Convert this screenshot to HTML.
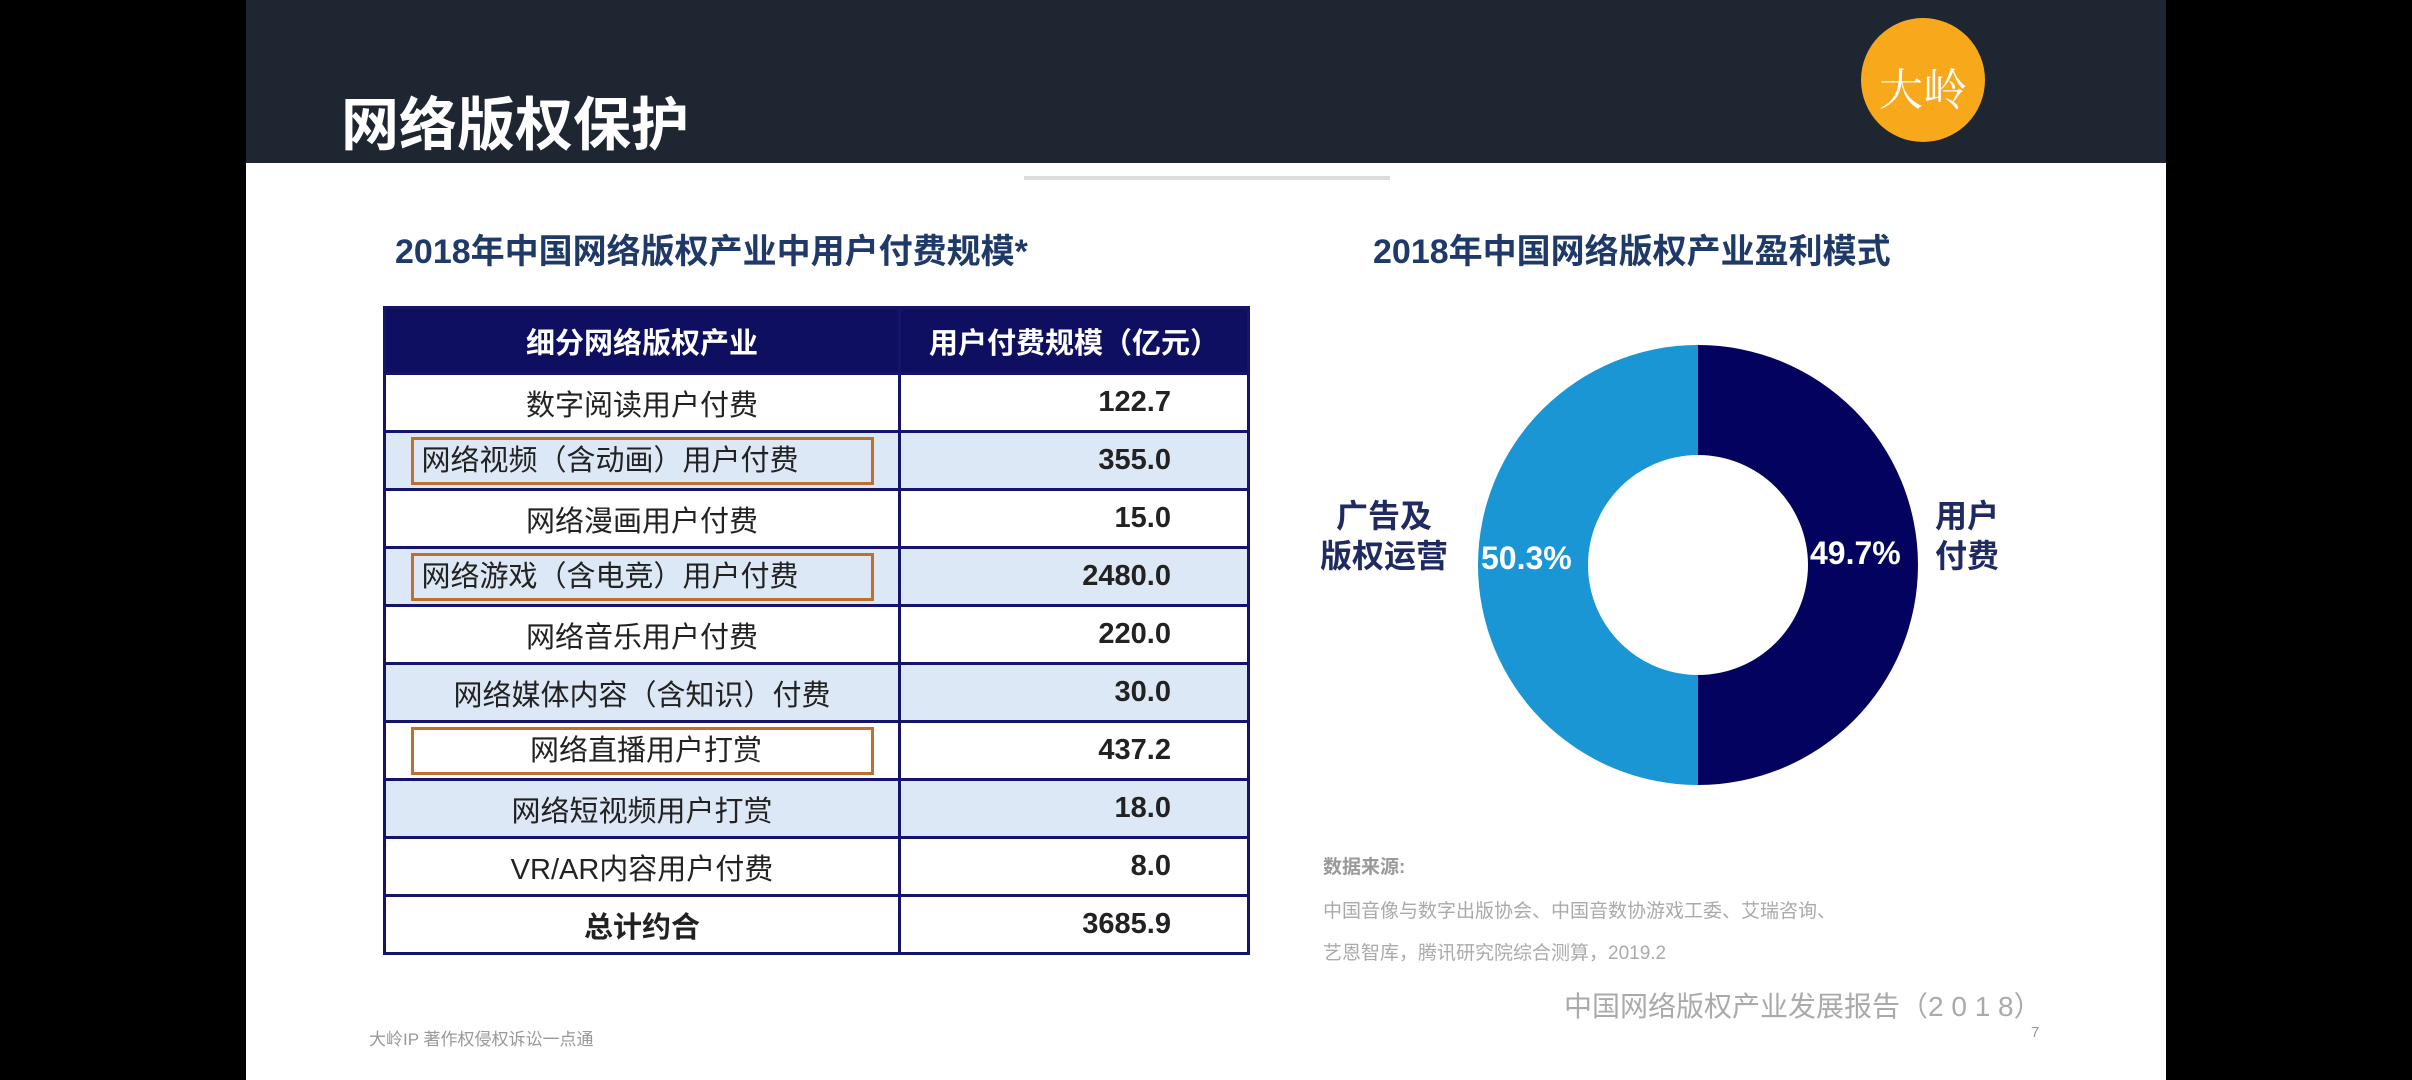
<!DOCTYPE html>
<html><head><meta charset="utf-8"><style>
*{margin:0;padding:0;box-sizing:border-box}
body{width:2412px;height:1080px;background:#000;position:relative;overflow:hidden;font-family:"Liberation Sans","Noto Sans CJK SC",sans-serif}
.slide{position:absolute;left:246px;top:0;width:1920px;height:1080px;background:#fff}
.hdr{position:absolute;left:0;top:0;width:1920px;height:163px;background:#1e2631}
.t{position:absolute;white-space:nowrap}
table{position:absolute;left:383px;top:306px;width:867px;border-collapse:collapse;border:3px solid #14146a}
td{border:3px solid #14146a;height:58px;font-size:29px;color:#222}
td.l{text-align:center;width:515px}
td.r{text-align:right;padding-right:76px;font-weight:bold}
tr.h td{background:#0f0f62;color:#fff;font-weight:bold;height:66px;text-align:center;padding:0}
tr.b td{background:#dde8f6}
.box{display:inline-block;border:3px solid #c0702a;width:463px;height:48px;line-height:42px;text-align:left;padding-left:8px}
.box.c{text-align:center}
</style></head><body>
<div class="slide">
<div class="hdr"></div>
<div class="t" style="left:95px;top:78px;font-size:58px;font-weight:bold;color:#fff">网络版权保护</div>
<div style="position:absolute;left:1615px;top:18px;width:124px;height:124px;border-radius:50%;background:#f7a81b"></div>
<div class="t" style="left:1617px;top:54px;width:120px;text-align:center;font-size:44px;color:#fff;font-family:'Noto Serif CJK SC',serif">大岭</div>
<div style="position:absolute;left:778px;top:176px;width:366px;height:4px;background:#dcdcdc"></div>
</div>
<div class="t" style="left:395px;top:224px;font-size:34px;font-weight:bold;color:#1f3a68">2018年中国网络版权产业中用户付费规模*</div>
<div class="t" style="left:1373px;top:224px;font-size:34px;font-weight:bold;color:#1f3a68">2018年中国网络版权产业盈利模式</div>
<table>
<tr class="h"><td class="l">细分网络版权产业</td><td>用户付费规模（亿元）</td></tr>
<tr><td class="l">数字阅读用户付费</td><td class="r">122.7</td></tr>
<tr class="b"><td class="l"><span class="box">网络视频（含动画）用户付费</span></td><td class="r">355.0</td></tr>
<tr><td class="l">网络漫画用户付费</td><td class="r">15.0</td></tr>
<tr class="b"><td class="l"><span class="box">网络游戏（含电竞）用户付费</span></td><td class="r">2480.0</td></tr>
<tr><td class="l">网络音乐用户付费</td><td class="r">220.0</td></tr>
<tr class="b"><td class="l">网络媒体内容（含知识）付费</td><td class="r">30.0</td></tr>
<tr><td class="l"><span class="box c">网络直播用户打赏</span></td><td class="r">437.2</td></tr>
<tr class="b"><td class="l">网络短视频用户打赏</td><td class="r">18.0</td></tr>
<tr><td class="l">VR/AR内容用户付费</td><td class="r">8.0</td></tr>
<tr><td class="l" style="font-weight:bold">总计约合</td><td class="r">3685.9</td></tr>
</table>
<svg style="position:absolute;left:0;top:0" width="2412" height="1080">
<path d="M1698 345 A220 220 0 0 0 1698 785 L1698 675 A110 110 0 0 1 1698 455 Z" fill="#1996d3"/>
<path d="M1698 345 A220 220 0 0 1 1698 785 L1698 675 A110 110 0 0 0 1698 455 Z" fill="#03035f"/>
</svg>
<div class="t" style="left:1320px;top:496px;font-size:32px;font-weight:bold;color:#1f2a60;line-height:40px;text-align:center">广告及<br>版权运营</div>
<div class="t" style="left:1481px;top:540px;font-size:32px;font-weight:bold;color:#fff">50.3%</div>
<div class="t" style="left:1810px;top:535px;font-size:32px;font-weight:bold;color:#fff">49.7%</div>
<div class="t" style="left:1935px;top:496px;font-size:32px;font-weight:bold;color:#1f2a60;line-height:40px">用户<br>付费</div>
<div class="t" style="left:1323px;top:852px;font-size:19px;font-weight:bold;color:#999">数据来源:</div>
<div class="t" style="left:1323px;top:896px;font-size:19px;color:#aaa">中国音像与数字出版协会、中国音数协游戏工委、艾瑞咨询、</div>
<div class="t" style="left:1323px;top:938px;font-size:19px;color:#aaa">艺恩智库，腾讯研究院综合测算，2019.2</div>
<div class="t" style="left:1564px;top:985px;font-size:28px;color:#aaa">中国网络版权产业发展报告（2 0 1 8）</div>
<div class="t" style="left:2031px;top:1024px;font-size:15px;color:#999">7</div>
<div class="t" style="left:369px;top:1025px;font-size:17px;color:#999">大岭IP 著作权侵权诉讼一点通</div>
</body></html>
